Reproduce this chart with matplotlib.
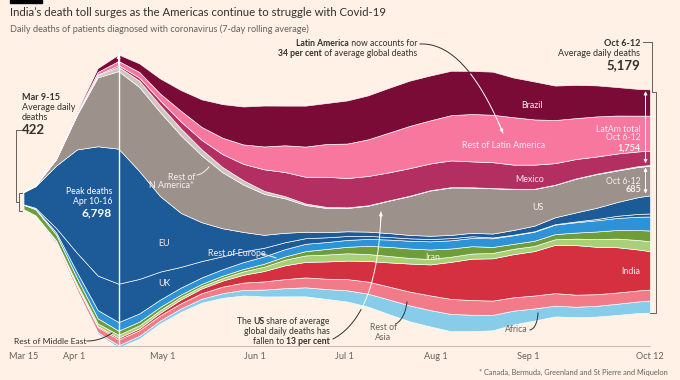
"""
Covid-19 daily deaths by region, streamgraph in the FT style
"""

import numpy as np
import pandas as pd
import matplotlib
matplotlib.use("Agg")
import matplotlib.pyplot as plt
from matplotlib.patches import Rectangle

plt.rcParams['font.family'] = ['Lato', 'DejaVu Sans']

# data: 7-day rolling average of daily deaths
dates = pd.to_datetime([
    "2020-03-15", "2020-03-19", "2020-03-26", "2020-04-02", "2020-04-09",
    "2020-04-16", "2020-04-23", "2020-04-30", "2020-05-07", "2020-05-14",
    "2020-05-21", "2020-05-28", "2020-06-04", "2020-06-11", "2020-06-18",
    "2020-06-25", "2020-07-02", "2020-07-09", "2020-07-16", "2020-07-23",
    "2020-07-30", "2020-08-06", "2020-08-13", "2020-08-20", "2020-08-27",
    "2020-09-03", "2020-09-10", "2020-09-17", "2020-09-24", "2020-10-01",
    "2020-10-08", "2020-10-12"])

africa = [0, 2, 8, 20, 40, 55, 65, 70, 80, 90, 110, 130, 160, 190, 210, 230,
          260, 300, 340, 370, 380, 400, 380, 360, 320, 280, 250, 240, 250, 260, 270, 280]
rest_asia = [20, 25, 50, 90, 120, 130, 130, 120, 120, 130, 150, 170, 190, 210, 230, 240,
             260, 280, 300, 320, 340, 350, 340, 330, 310, 300, 290, 280, 270, 260, 255, 255]
india = [0, 0, 2, 8, 25, 40, 45, 60, 90, 110, 140, 180, 240, 320, 360, 400,
         430, 480, 560, 650, 720, 860, 960, 980, 1000, 1030, 1120, 1150, 1100, 1050, 950, 890]
rest_mideast = [3, 8, 20, 40, 60, 70, 70, 60, 55, 50, 60, 80, 100, 130, 150, 160,
                170, 160, 150, 130, 125, 120, 120, 125, 125, 120, 130, 150, 180, 200, 220, 230]
iran = [100, 140, 140, 140, 120, 95, 85, 75, 60, 55, 55, 55, 70, 75, 100, 130,
        150, 190, 210, 220, 220, 190, 170, 140, 115, 120, 120, 140, 175, 200, 230, 250]
rest_europe = [5, 12, 50, 130, 190, 200, 190, 170, 160, 150, 150, 160, 170, 170, 170, 160,
               160, 160, 170, 180, 190, 190, 190, 200, 200, 210, 220, 240, 260, 280, 310, 325]
uk = [5, 20, 100, 450, 800, 890, 800, 650, 480, 380, 300, 250, 200, 160, 130, 110,
      90, 70, 60, 55, 55, 50, 40, 20, 12, 10, 10, 18, 30, 50, 65, 70]
eu = [284, 500, 1450, 2400, 3000, 3133, 2500, 1750, 1250, 900, 650, 450, 300, 220, 150, 120,
      110, 100, 90, 80, 75, 75, 80, 90, 110, 130, 160, 210, 260, 320, 390, 420]
us = [5, 20, 150, 800, 1600, 1800, 1950, 1950, 1800, 1550, 1300, 1100, 950, 800, 620, 560,
      540, 600, 750, 900, 1050, 1100, 1050, 1050, 950, 850, 750, 780, 780, 730, 700, 685]
rest_n_america = [0, 1, 5, 15, 50, 100, 150, 160, 160, 140, 120, 100, 70, 50, 35, 25,
                  15, 10, 8, 8, 8, 8, 7, 6, 6, 6, 6, 8, 10, 15, 20, 20]
mexico = [0, 0, 1, 5, 15, 35, 70, 110, 160, 220, 300, 380, 500, 560, 620, 700,
          680, 680, 650, 640, 620, 620, 600, 600, 560, 560, 500, 450, 400, 380, 340, 334]
rest_latam = [0, 1, 10, 30, 60, 100, 130, 160, 250, 300, 380, 450, 530, 620, 700, 760,
              800, 850, 920, 980, 1000, 1050, 1100, 1100, 1100, 1050, 1000, 950, 930, 880, 830, 810]
brazil = [0, 1, 10, 35, 90, 150, 200, 350, 480, 640, 780, 880, 950, 920, 950, 950,
          1000, 1020, 1040, 1050, 1040, 1030, 1000, 1000, 920, 880, 800, 770, 720, 660, 620, 610]

# bottom to top
series = [africa, rest_asia, india, rest_mideast, iran, rest_europe, uk, eu,
          us, rest_n_america, mexico, rest_latam, brazil]
colors = ['#87cdea', '#f17b88', '#d4303f', '#a8d077', '#6e9d3a', '#2d92d6', '#1c5a98',
          '#1c5a98', '#9d928b', '#cec6bf', '#b32f62', '#f7779f', '#790b36']

tick_dates = pd.to_datetime(["2020-03-15", "2020-04-01", "2020-05-01", "2020-06-01",
                             "2020-07-01", "2020-08-01", "2020-09-01", "2020-10-12"])
tick_labels = ["Mar 15", "Apr 1", "May 1", "Jun 1", "Jul 1", "Aug 1", "Sep 1", "Oct 12"]

BG = '#fff1e5'
DARK = '#33302e'
GREY = '#66605c'
LIGHT = '#fbeef0'
FS = 6.2     # body text
LS = 6.4     # labels inside the stream

W, H = 680, 380
fig = plt.figure(figsize=(6.8, 3.8), dpi=100)
fig.patch.set_facecolor(BG)

# stream axes, placed in pixels
x0, x1 = 23.5, 650
ytop, ybot, ymid = 40, 346, 201
per_px = 23.2
ax = fig.add_axes([x0 / W, 1 - ybot / H, (x1 - x0) / W, (ybot - ytop) / H])
ax.set_facecolor('none')
ax.stackplot(dates, *series, baseline='sym', colors=colors,
             edgecolor='white', linewidth=0.45)
ax.set_xlim(dates[0], dates[-1])
ax.set_ylim(-(ybot - ymid) * per_px, (ymid - ytop) * per_px)
for s in ['top', 'left', 'right']:
    ax.spines[s].set_visible(False)
ax.spines['bottom'].set_linestyle((0, (1, 1)))
ax.spines['bottom'].set_color('#c8beb5')
ax.spines['bottom'].set_linewidth(0.8)
ax.set_yticks([])
ax.set_xticks(tick_dates)
ax.set_xticklabels(tick_labels)
ax.tick_params(axis='x', length=0, pad=4, labelsize=6.6, labelcolor=GREY)

totals = np.sum(series, axis=0)

# peak line at Apr 10-16
peak = int(np.argmax(totals))
ax.vlines(dates[peak], -totals[peak] / 2, totals[peak] / 2, color='white', lw=1, zorder=5)
ax.annotate('', xy=(dates[peak], totals[peak] / 2), xytext=(dates[peak], totals[peak] / 2 - 250),
            arrowprops=dict(arrowstyle='-|>', color='white', lw=0.8, mutation_scale=5,
                            shrinkA=0, shrinkB=0), zorder=6)

# Oct 6-12 arrows for LatAm and US
xa = dates[-1] - pd.Timedelta(days=1.5)
top = totals[-1] / 2
latam = mexico[-1] + rest_latam[-1] + brazil[-1]
us_top = top - latam - rest_n_america[-1]
arrow_kw = dict(arrowstyle='<|-|>', color='white', lw=0.7, mutation_scale=5, shrinkA=0, shrinkB=0)
ax.annotate('', xy=(xa, top - 40), xytext=(xa, top - latam + 40), arrowprops=arrow_kw)
ax.annotate('', xy=(xa, us_top - 40), xytext=(xa, us_top - us[-1] + 40), arrowprops=arrow_kw)

# overlay in pixel coordinates for text and leaders
ov = fig.add_axes([0, 0, 1, 1])
ov.set_xlim(0, W)
ov.set_ylim(H, 0)
ov.axis('off')
ov.patch.set_alpha(0)


def rich_right(x, y, parts, size=FS, color=DARK):
    """Right-aligned line made of (text, weight) pieces."""
    prev = None
    for txt, wt in reversed(parts):
        if prev is None:
            prev = ov.text(x, y, txt, ha='right', va='bottom', fontsize=size,
                           fontweight=wt, color=color)
        else:
            prev = ov.annotate(txt, xy=(0, 0), xycoords=prev, ha='right', va='bottom',
                               fontsize=size, fontweight=wt, color=color)


def bez(p0, p1, p2, n=40):
    t = np.linspace(0, 1, n)[:, None]
    p0, p1, p2 = map(np.asarray, (p0, p1, p2))
    pts = (1 - t) ** 2 * p0 + 2 * (1 - t) * t * p1 + t ** 2 * p2
    return pts[:, 0], pts[:, 1]


def leader(p0, p1, p2, split=None, c1=DARK, c2='white', arrow=False):
    bx, by = bez(p0, p1, p2)
    if split is None:
        k = len(bx)
    else:
        k = int(np.argmax(by < split)) if p2[1] < p0[1] else int(np.argmax(by > split))
    ov.plot(bx[:k + 1], by[:k + 1], color=c1, lw=0.7)
    if k < len(bx) - 1:
        ov.plot(bx[k:], by[k:], color=c2, lw=0.7)
    if arrow:
        ov.annotate('', xy=(bx[-1], by[-1]), xytext=(bx[-3], by[-3]),
                    arrowprops=dict(arrowstyle='-|>', color=c2, lw=0.7,
                                    mutation_scale=5, shrinkA=0, shrinkB=0))


# title block
ov.add_patch(Rectangle((10, 0), 32, 2.7, color='black'))
ov.text(10, 13, "India\u2019s death toll surges as the Americas continue to struggle with Covid-19",
        fontsize=8.2, color=DARK, va='center')
ov.text(10, 29, "Daily deaths of patients diagnosed with coronavirus (7-day rolling average)",
        fontsize=6.6, color=GREY, va='center')

# left annotation
ov.text(22, 98, "Mar 9-15", fontsize=6.5, fontweight='bold', color=DARK, va='center')
ov.text(22, 108, "Average daily", fontsize=6.5, color=DARK, va='center')
ov.text(22, 118, "deaths", fontsize=6.5, color=DARK, va='center')
ov.text(22, 130, "422", fontsize=9.5, fontweight='bold', color=DARK, va='center')
ov.plot([21, 16, 16, 19], [130, 130, 202, 202], color=GREY, lw=0.7)
ov.plot([22, 19, 19, 22], [193, 193, 211, 211], color=GREY, lw=0.7)

# peak
ov.text(112, 192, "Peak deaths", fontsize=6.2, color='white', ha='right', va='center')
ov.text(112, 202, "Apr 10-16", fontsize=6.2, color='white', ha='right', va='center')
ov.text(112, 213, "6,798", fontsize=8.6, fontweight='bold', color='white', ha='right', va='center')

# right annotation
ov.text(640, 43, "Oct 6-12", fontsize=6.5, fontweight='bold', color=DARK, ha='right', va='center')
ov.text(640, 53, "Average daily deaths", fontsize=6.5, color=DARK, ha='right', va='center')
ov.text(640, 65, "5,179", fontsize=9.5, fontweight='bold', color=DARK, ha='right', va='center')
ov.plot([643, 652, 652, 656, 656, 650], [42, 42, 92, 92, 313, 313], color=GREY, lw=0.7)
ov.text(641, 129, "LatAm total", fontsize=FS, color=LIGHT, ha='right', va='center')
ov.text(641, 138, "Oct 6-12", fontsize=FS, color=LIGHT, ha='right', va='center')
ov.text(641, 148, "1,754", fontsize=6.6, fontweight='bold', color=LIGHT, ha='right', va='center')
ov.text(641, 181, "Oct 6-12", fontsize=FS, color=LIGHT, ha='right', va='center')
ov.text(641, 190, "685", fontsize=6.6, fontweight='bold', color=LIGHT, ha='right', va='center')

# region labels
lab = dict(fontsize=LS, color=LIGHT, ha='center', va='center')
ov.text(532, 105, "Brazil", **lab)
ov.text(504, 145, "Rest of Latin America", **lab)
ov.text(530, 180, "Mexico", **lab)
ov.text(538, 208, "US", **lab)
ov.text(433, 257, "Iran", **lab)
ov.text(631, 272, "India", **lab)
ov.text(164, 243, "EU", **lab)
ov.text(164, 283, "UK", **lab)
ov.text(208, 253, "Rest of Europe", fontsize=LS, color=LIGHT, va='center')
leader((261, 254), (268, 255), (276, 258), c1=LIGHT)
ov.text(195, 177, "Rest of", fontsize=LS, color=LIGHT, ha='right', va='center')
ov.text(194, 186, "N America*", fontsize=LS, color=LIGHT, ha='right', va='center')
leader((197, 175), (203, 174), (209, 167), c1=LIGHT)

# Latin America note
rich_right(417, 48, [("Latin America", 'bold'), (" now accounts for", 'normal')])
rich_right(417, 58, [("34 per cent", 'bold'), (" of average global deaths", 'normal')])
leader((420, 44), (465, 42), (503, 133), split=73, arrow=True)

# US note
rich_right(330, 326, [("The ", 'normal'), ("US", 'bold'), (" share of average", 'normal')])
rich_right(330, 336, [("global daily deaths has", 'normal')])
rich_right(330, 346, [("fallen to ", 'normal'), ("13 per cent", 'bold')])
leader((333, 339), (378, 315), (381, 212), split=309, arrow=True)

# bottom labels
ov.text(383, 328, "Rest of", fontsize=FS, color=GREY, ha='center', va='center')
ov.text(383, 338, "Asia", fontsize=FS, color=GREY, ha='center', va='center')
leader((396, 324), (405, 318), (407, 302))
ov.text(528, 330, "Africa", fontsize=FS, color=GREY, ha='right', va='center')
leader((530, 330), (537, 328), (538, 313))
ov.text(14, 341, "Rest of Middle East", fontsize=6.1, color=DARK, va='center')
leader((87, 341), (100, 341), (112, 333))

ov.text(668, 372, "* Canada, Bermuda, Greenland and St Pierre and Miquelon",
        fontsize=5.3, color=GREY, ha='right', va='center')

fig.savefig("out.png", dpi=100, facecolor=BG)
